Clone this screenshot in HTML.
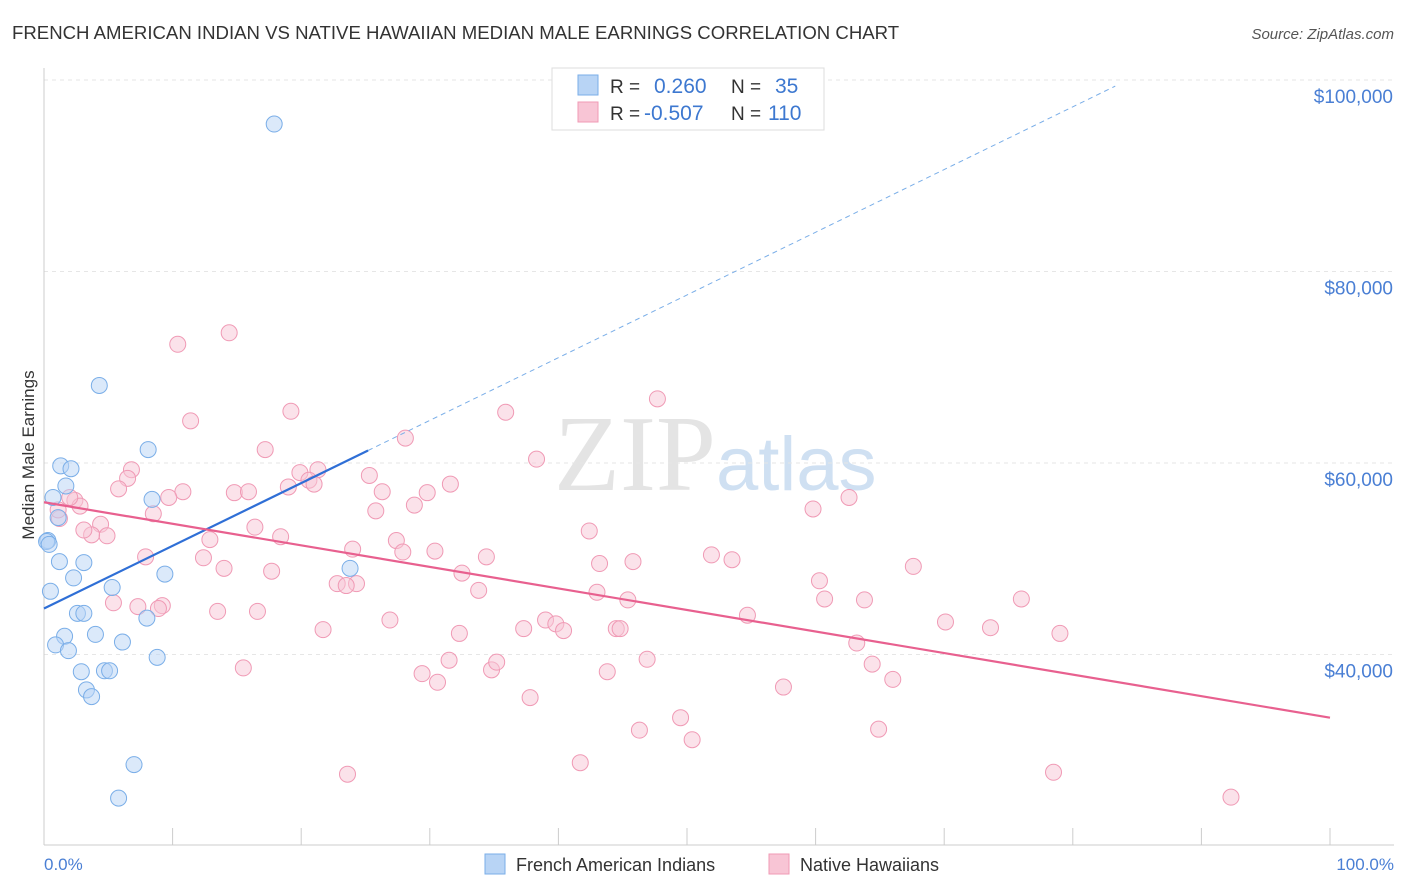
<!DOCTYPE html>
<html><head><meta charset="utf-8">
<style>
body{margin:0;background:#fff;font-family:"Liberation Sans",sans-serif;}
svg{display:block}
</style></head>
<body>
<svg id="chart" width="1406" height="892">
<text x="12" y="39" font-size="18.6" fill="#333">FRENCH AMERICAN INDIAN VS NATIVE HAWAIIAN MEDIAN MALE EARNINGS CORRELATION CHART</text>
<text x="1394" y="39" font-size="15" fill="#555" text-anchor="end" font-style="italic">Source: ZipAtlas.com</text>
<text x="716" y="490" font-size="108" fill="#e4e4e4" text-anchor="end" font-family="Liberation Serif, serif">ZIP</text>
<text x="716" y="490" font-size="76" fill="#cfe0f2">atlas</text>
<g id="grid"></g>
<g id="axes"></g>
<g id="marks"></g>
<text transform="translate(34,455) rotate(-90)" font-size="17" fill="#333" text-anchor="middle">Median Male Earnings</text>
<text x="44" y="870" font-size="17" fill="#4a7fd4">0.0%</text>
<text x="1394" y="870" font-size="17" fill="#4a7fd4" text-anchor="end">100.0%</text>
<g>
<rect x="552" y="68" width="272" height="62" fill="#fff" stroke="#ddd"/>
<rect x="578" y="75" width="20" height="20" fill="#b8d4f5" stroke="#7aaee8"/>
<rect x="578" y="102" width="20" height="20" fill="#f8c5d5" stroke="#f09ab5"/>
<text x="610" y="93" font-size="19" fill="#333">R =</text>
<text x="654" y="93" font-size="21" fill="#3d78d0">0.260</text>
<text x="731" y="93" font-size="19" fill="#333">N =</text>
<text x="775" y="93" font-size="21" fill="#3d78d0">35</text>
<text x="610" y="120" font-size="19" fill="#333">R =</text>
<text x="644" y="120" font-size="21" fill="#3d78d0">-0.507</text>
<text x="731" y="120" font-size="19" fill="#333">N =</text>
<text x="768" y="120" font-size="21" fill="#3d78d0">110</text>
</g>
<g>
<rect x="485" y="854" width="20" height="20" fill="#b8d4f5" stroke="#7aaee8"/>
<text x="516" y="871" font-size="18" fill="#333">French American Indians</text>
<rect x="769" y="854" width="20" height="20" fill="#f8c5d5" stroke="#f09ab5"/>
<text x="800" y="871" font-size="18" fill="#333">Native Hawaiians</text>
</g>
</svg>
<script>
const yTicks=[40000,60000,80000,100000];
const yTickLabels=["$40,000","$60,000","$80,000","$100,000"];
const blueX=[17.9,4.3,8.1,1.3,2.1,1.7,0.7,8.4,1.1,0.3,1.2,3.1,9.4,2.3,23.8,5.3,0.5,2.6,3.1,8.0,1.6,4.0,6.1,0.9,1.9,8.8,2.9,4.7,5.1,3.3,3.7,7.0,5.8,0.2,0.4];
const blueY=[95.4,68.1,61.4,59.7,59.4,57.6,56.4,56.2,54.3,51.9,49.7,49.6,48.4,48.0,49.0,47.0,46.6,44.3,44.3,43.8,41.9,42.1,41.3,41.0,40.4,39.7,38.2,38.3,38.3,36.3,35.6,28.5,25.0,51.8,51.5];
const pinkX=[14.4,10.4,11.4,19.2,35.9,47.7,28.1,17.2,38.3,6.8,6.5,21.3,19.9,25.3,10.8,14.8,15.9,26.3,29.8,31.6,9.7,2.4,2.8,4.4,1.2,8.5,25.8,28.8,5.8,20.6,21.0,19.0,16.4,18.4,12.9,4.9,3.7,3.1,27.4,24.0,30.4,34.4,27.9,7.9,12.4,14.0,17.7,42.4,43.2,45.8,51.9,53.5,59.8,62.6,67.6,60.3,22.8,24.3,23.5,32.5,33.8,43.0,45.4,60.7,63.8,76.0,5.4,7.3,9.2,8.9,13.5,16.6,21.7,26.9,32.3,37.3,39.0,39.8,40.4,44.5,44.8,54.7,70.1,73.6,79.0,63.2,64.4,66.0,15.5,29.4,30.6,31.5,34.8,35.2,43.8,46.9,57.5,37.8,49.5,50.4,46.3,64.9,41.7,23.6,78.5,92.3,2.0,1.1];
const pinkY=[73.6,72.4,64.4,65.4,65.3,66.7,62.6,61.4,60.4,59.3,58.4,59.3,59.0,58.7,57.0,56.9,57.0,57.0,56.9,57.8,56.4,56.1,55.5,53.6,54.2,54.7,55.0,55.6,57.3,58.2,57.8,57.5,53.3,52.3,52.0,52.4,52.5,53.0,51.9,51.0,50.8,50.2,50.7,50.2,50.1,49.0,48.7,52.9,49.5,49.7,50.4,49.9,55.2,56.4,49.2,47.7,47.4,47.4,47.2,48.5,46.7,46.5,45.7,45.8,45.7,45.8,45.4,45.0,45.1,44.8,44.5,44.5,42.6,43.6,42.2,42.7,43.6,43.2,42.5,42.7,42.7,44.1,43.4,42.8,42.2,41.2,39.0,37.4,38.6,38.0,37.1,39.4,38.4,39.2,38.2,39.5,36.6,35.5,33.4,31.1,32.1,32.2,28.7,27.5,27.7,25.1,56.4,55.1];
const blueTrend=[44.8,0.655];
const pinkTrend=[55.9,-0.225];
const NS="http://www.w3.org/2000/svg";
const X=p=>44+p*12.86;
const Y=k=>80+(100-k)*9.575;
function mk(tag,attrs,parent){const e=document.createElementNS(NS,tag);for(const k in attrs)e.setAttribute(k,attrs[k]);document.getElementById(parent).appendChild(e);return e;}
yTicks.forEach((v,i)=>{
 const g=mk('line',{x1:44,x2:1394,y1:Y(v/1000),y2:Y(v/1000),stroke:'#e6e6e6','stroke-dasharray':'4,4'},'grid');
 
 
 const t=mk('text',{x:1393,y:Y(v/1000)+23,'font-size':19,fill:'#4a7fd4','text-anchor':'end'},'grid');
 t.textContent=yTickLabels[i];
 
 
});
const ax=mk('line',{x1:44,x2:1394,y1:845,y2:845,stroke:'#ccc'},'axes');


const ay=mk('line',{x1:44,x2:44,y1:68,y2:845,stroke:'#ccc'},'axes');


for(let i=0;i<=10;i++){
 const t=mk('line',{x1:X(i*10),x2:X(i*10),y1:828,y2:845,stroke:'#ccc'},'axes');
 
 
}
pinkX.forEach((x,i)=>{
 const c=mk('circle',{cx:X(x),cy:Y(pinkY[i]),r:8,fill:'rgba(248,197,213,0.5)',stroke:'#f09ab5','stroke-width':1},'marks');
 
 
});
blueX.forEach((x,i)=>{
 const c=mk('circle',{cx:X(x),cy:Y(blueY[i]),r:8,fill:'rgba(184,212,245,0.5)',stroke:'#7aaee8','stroke-width':1},'marks');
 
 
});
const bEnd=25.2,bDash=83.3;
const l1=mk('line',{x1:X(0),y1:Y(blueTrend[0]),x2:X(bEnd),y2:Y(blueTrend[0]+blueTrend[1]*bEnd),stroke:'#2f6fd6','stroke-width':2.2},'marks');


const l2=mk('line',{x1:X(bEnd),y1:Y(blueTrend[0]+blueTrend[1]*bEnd),x2:X(bDash),y2:Y(blueTrend[0]+blueTrend[1]*bDash),stroke:'#7aaee8','stroke-width':1,'stroke-dasharray':'5,4'},'marks');


const l3=mk('line',{x1:X(0),y1:Y(pinkTrend[0]),x2:X(100),y2:Y(pinkTrend[0]+pinkTrend[1]*100),stroke:'#e8608f','stroke-width':2.2},'marks');


</script>
</body></html>
